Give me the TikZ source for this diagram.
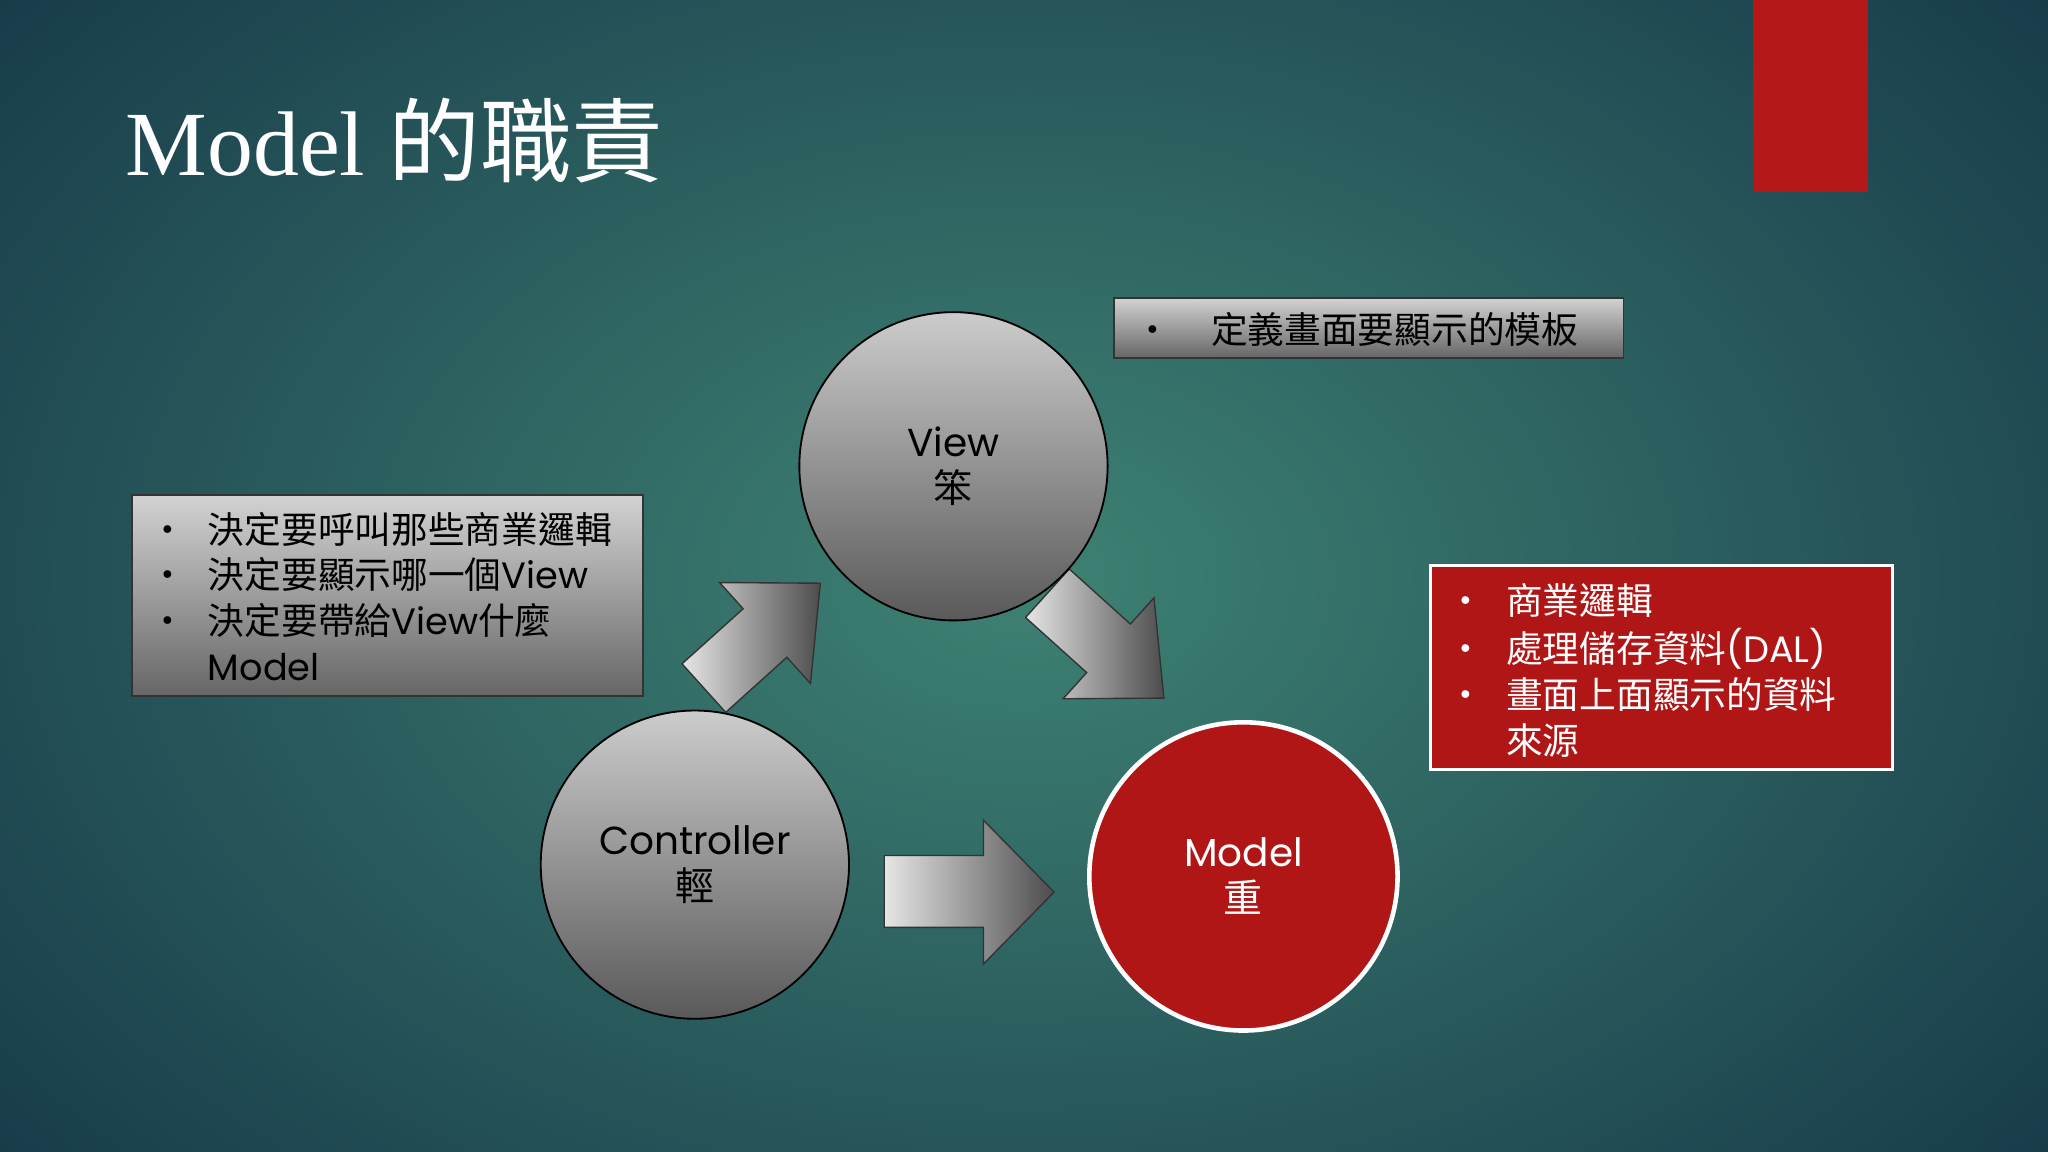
\documentclass[tikz,border=0pt]{standalone}
\usepackage{fontspec}
\setmainfont{Liberation Serif}
\newfontfamily\cjk{Noto Sans CJK TC}
\newfontfamily\body{Poppins}
\newcommand\bt[1]{{\body #1}}
\definecolor{bgin}{RGB}{62,130,115}
\definecolor{bgout}{RGB}{22,55,72}
\definecolor{myred}{RGB}{176,22,22}
\definecolor{barred}{RGB}{180,24,24}
\begin{document}
\begin{tikzpicture}[x=0.02cm,y=-0.02cm,
  ball/.style={circle,minimum size=236*0.02cm,draw=black,line width=0.8pt,top color=gray!40,bottom color=black!65,text=black,align=center,font=\cjk\fontsize{17}{20}\selectfont},
  gbox/.style={draw=black!80,line width=0.8pt,top color=gray!35,bottom color=black!60},
  barr/.style={draw=black!80,line width=0.6pt,left color=gray!20,right color=black!70},
  lst/.style={anchor=north west,align=left,text=black,font=\cjk\fontsize{16}{20}\selectfont}]
\useasboundingbox (0,0) rectangle (1568,882);
\shade[inner color=bgin,outer color=bgout] (-300,-300) rectangle (1868,1182);
\fill[barred] (1342,0) rectangle (1430,147);
\node[anchor=west,text=white,font=\fontsize{40}{44}\selectfont] (title) at (90,108) {Model {\cjk 的職責}};
% arrows
\draw[barr] (677,655)--(753,655)--(753,628)--(807,683)--(753,738)--(753,710)--(677,710)--cycle;
\draw[barr,shift={(582,488)},rotate=42] (-58,-25)--(5,-25)--(5,-52)--(62,0)--(5,52)--(5,25)--(-58,25)--cycle;
\draw[barr,shift={(845,493)},rotate=-42] (-58,-25)--(5,-25)--(5,-52)--(62,0)--(5,52)--(5,25)--(-58,25)--cycle;
% circles
\node[ball] (view) at (730,357) {\bt{View}\\笨};
\node[ball] (ctrl) at (532,662) {\bt{Controller}\\輕};
\node[ball,draw=white,line width=2pt,top color=myred,bottom color=myred,text=white] (model) at (952,671) {\bt{Model}\\重};
% boxes
\draw[gbox] (853,228) rectangle (1243,274);
\node[lst,anchor=west] (tbox) at (862,252) {\textbullet\hspace{1.1em}定義畫面要顯示的模板};
\draw[gbox] (101,379) rectangle (492,533);
\node[lst] (lbox) at (108,385) {\begin{tabular}{@{}p{1.3em}@{\hspace{0.3em}}l@{}}
\textbullet & 決定要呼叫那些商業邏輯\\
\textbullet & 決定要顯示哪一個\bt{View}\\
\textbullet & 決定要帶給\bt{View}什麼\\
 & \bt{Model}\end{tabular}};
\draw[draw=white,line width=1.5pt,fill=myred] (1095,433) rectangle (1449,589);
\node[lst,text=white] (rbox) at (1102,440) {\begin{tabular}{@{}p{1.3em}@{\hspace{0.3em}}l@{}}
\textbullet & 商業邏輯\\
\textbullet & 處理儲存資料\bt{(DAL)}\\
\textbullet & 畫面上面顯示的資料\\
 & 來源\end{tabular}};
\end{tikzpicture}
\end{document}
